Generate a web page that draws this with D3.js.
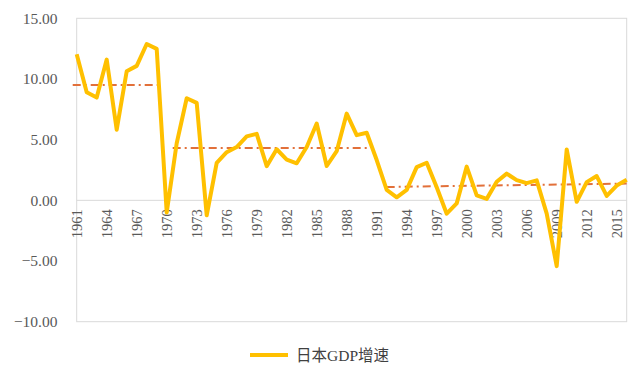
<!DOCTYPE html>
<html>
<head>
<meta charset="utf-8">
<script src="https://cdn.jsdelivr.net/npm/d3@7"></script>
<style>
  html, body { margin: 0; padding: 0; background: #fff; }
  svg { display: block; }
</style>
</head>
<body>
<svg id="chart" width="639" height="369"></svg>
<script>
// ---- data ----
const years = d3.range(1961, 2017);
const gdpGrowth = [
  12.04, 8.91, 8.47, 11.60, 5.82, 10.64, 11.08, 12.88, 12.48, -1.00,
  4.70, 8.41, 8.03, -1.23, 3.09, 3.97, 4.39, 5.27, 5.48, 2.82,
  4.21, 3.35, 3.05, 4.40, 6.33, 2.83, 4.05, 7.15, 5.37, 5.57,
  3.32, 0.86, 0.25, 0.86, 2.74, 3.10, 1.08, -1.10, -0.25, 2.78,
  0.41, 0.12, 1.53, 2.20, 1.66, 1.42, 1.65, -1.09, -5.42, 4.19,
  -0.12, 1.50, 2.00, 0.37, 1.22, 1.70
];
const avgStart = [1960.6, 1970.6, 1992.0];
const avgEnd   = [1969.4, 1990.0, 2016.0];
const avgFrom  = [9.50, 4.32, 1.10];
const avgTo    = [9.50, 4.32, 1.38];
const yTicks = [-10, -5, 0, 5, 10, 15];
const xTickYears = d3.range(1961, 2017, 3);
const seriesName = "日本GDP增速";

// ---- layout ----
const svg = d3.select("#chart");
const L = 76.7, R = 626.7, T = 18.3, B = 321.7;

const x = d3.scaleLinear().domain([1961, 2016]).range([L, R]);
const y = d3.scaleLinear().domain([-10, 15]).range([B, T]);

// plot border
svg.append("rect")
  .attr("x", L).attr("y", T).attr("width", R - L).attr("height", B - T)
  .attr("fill", "none").attr("stroke", "#d9d9d9").attr("stroke-width", 1);

// zero line
svg.append("line")
  .attr("x1", L).attr("x2", R).attr("y1", y(0)).attr("y2", y(0))
  .attr("stroke", "#d9d9d9").attr("stroke-width", 1);

// y axis labels
const yAxis = d3.axisLeft(y).tickValues(yTicks).tickFormat(d3.format(".2f")).tickSize(0).tickPadding(0);
const gy = svg.append("g").attr("transform", `translate(${57.5},0)`).call(yAxis);
gy.select(".domain").remove();
gy.selectAll("text")
  .attr("font-family", "'Liberation Serif', 'DejaVu Serif', serif")
  .attr("font-size", 15.5).attr("fill", "#595959");

// x axis labels (rotated)
const xAxis = d3.axisBottom(x).tickValues(xTickYears).tickFormat(d3.format("d")).tickSize(0);
const gx = svg.append("g").attr("transform", `translate(0,${y(0)})`).call(xAxis);
gx.select(".domain").remove();
gx.selectAll("text")
  .attr("font-family", "'Liberation Serif', 'DejaVu Serif', serif")
  .attr("font-size", 14.5).attr("fill", "#595959")
  .attr("transform", "rotate(-90)")
  .attr("text-anchor", "end")
  .attr("x", -9).attr("y", 0).attr("dy", "0.35em");

// average dash-dot lines
svg.append("g").selectAll("line")
  .data(avgStart.map((s, i) => ({ s, e: avgEnd[i], a: avgFrom[i], b: avgTo[i] })))
  .join("line")
  .attr("x1", d => x(d.s)).attr("x2", d => x(d.e))
  .attr("y1", d => y(d.a)).attr("y2", d => y(d.b))
  .attr("stroke", "#E2703A").attr("stroke-width", 2)
  .attr("stroke-dasharray", "8,4,2,4");

// main line
const line = d3.line().x((d, i) => x(years[i])).y(d => y(d));
svg.append("path")
  .datum(gdpGrowth)
  .attr("d", line)
  .attr("fill", "none")
  .attr("stroke", "#FFC000")
  .attr("stroke-width", 4)
  .attr("stroke-linejoin", "round");

// legend
const lg = svg.append("g");
lg.append("line").attr("x1", 250).attr("x2", 288).attr("y1", 355).attr("y2", 355)
  .attr("stroke", "#FFC000").attr("stroke-width", 4);
lg.append("text").attr("x", 296).attr("y", 360.5)
  .attr("font-family", "'Liberation Serif', 'Noto Sans CJK SC', serif")
  .attr("font-size", 15.5).attr("fill", "#404040")
  .text(seriesName);
</script>
</body>
</html>
